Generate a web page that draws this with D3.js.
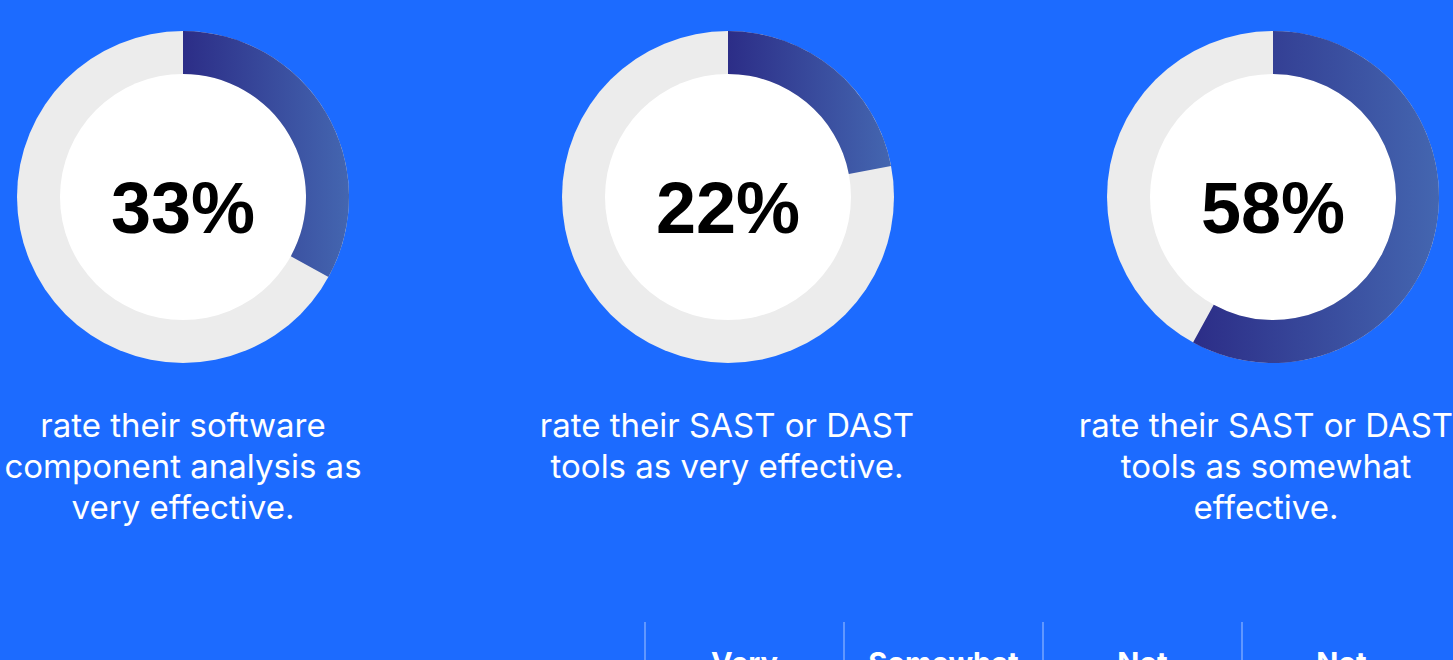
<!DOCTYPE html>
<html>
<head>
<meta charset="utf-8">
<script src="https://cdn.jsdelivr.net/npm/d3@7"></script>
<style>
	html, body { margin: 0; padding: 0; background: #1c6bff; overflow: hidden; }
	#chart { width: 1453px; height: 660px; }
</style>
</head>
<body>
<div id="chart"></div>
<script>
const shares = [33, 22, 58];
const labels = ['33%', '22%', '58%'];
const captions = [
	['rate their software', 'component analysis as', 'very effective.'],
	['rate their SAST or DAST', 'tools as very effective.'],
	['rate their SAST or DAST', 'tools as somewhat', 'effective.']
];
const tableHeaders = [['Very', 'effective'], ['Somewhat', 'effective'], ['Not', 'effective'], ['Not', 'sure']];

const width = 1453;
const height = 660;

const svg = d3
	.select('#chart')
	.append('svg')
	.attr('width', width)
	.attr('height', height)
	.attr('viewBox', `0 0 ${width} ${height}`);

const defs = svg.append('defs');
const grad = defs.append('linearGradient').attr('id', 'arcGrad').attr('x1', 0).attr('x2', 1).attr('y1', 0).attr('y2', 0);
grad.append('stop').attr('offset', '0%').attr('stop-color', '#2c2d87');
grad.append('stop').attr('offset', '100%').attr('stop-color', '#4466b0');

const outerR = 166;
const innerR = 123;
const cy = 197;

const x = d3.scalePoint().domain(d3.range(shares.length)).range([183, 1273]);
const angle = d3.scaleLinear().domain([0, 100]).range([0, 2 * Math.PI]);

const arc = d3.arc().innerRadius(innerR).outerRadius(outerR).startAngle(0);

// caption centres are a little off the donut centres in the original
const captionX = [183, 727, 1266];

const donuts = svg
	.selectAll('g.donut')
	.data(shares)
	.enter()
	.append('g')
	.attr('class', 'donut')
	.attr('transform', (d, i) => `translate(${x(i)},${cy})`);

donuts
	.append('circle')
	.attr('r', outerR)
	.attr('fill', '#ececec');

donuts
	.append('circle')
	.attr('r', innerR)
	.attr('fill', '#ffffff');

donuts
	.append('path')
	.attr('d', (d) => arc({ endAngle: angle(d) }))
	.attr('fill', 'url(#arcGrad)');

donuts
	.append('text')
	.attr('text-anchor', 'middle')
	.attr('y', 36)
	.attr('font-family', '"Liberation Sans", Arial, sans-serif')
	.attr('font-weight', 'bold')
	.attr('font-size', '72px')
	.attr('fill', '#000')
	.text((d, i) => labels[i]);

captions.forEach((lines, i) => {
	const t = svg
		.append('text')
		.attr('text-anchor', 'middle')
		.attr('font-family', 'Inter, "Noto Sans", sans-serif')
		.attr('font-size', '33px')
		.attr('fill', '#ffffff');
	lines.forEach((line, j) => {
		t.append('tspan')
			.attr('x', captionX[i])
			.attr('y', 437 + j * 41)
			.text(line);
	});
});

// table header at the bottom, cut off by the frame
const col = d3.scaleBand().domain(d3.range(tableHeaders.length)).range([645, 1441]);

svg
	.selectAll('line.sep')
	.data(col.domain())
	.enter()
	.append('line')
	.attr('class', 'sep')
	.attr('x1', (d) => col(d))
	.attr('x2', (d) => col(d))
	.attr('y1', 622)
	.attr('y2', height)
	.attr('stroke', '#ffffff')
	.attr('stroke-opacity', 0.3)
	.attr('stroke-width', 2);

tableHeaders.forEach((lines, i) => {
	const t = svg
		.append('text')
		.attr('text-anchor', 'middle')
		.attr('font-family', 'Inter, "Noto Sans", sans-serif')
		.attr('font-weight', 'bold')
		.attr('font-size', '29px')
		.attr('fill', '#ffffff');
	lines.forEach((line, j) => {
		t.append('tspan')
			.attr('x', col(i) + col.bandwidth() / 2)
			.attr('y', 673 + j * 34)
			.text(line);
	});
});
</script>
</body>
</html>
